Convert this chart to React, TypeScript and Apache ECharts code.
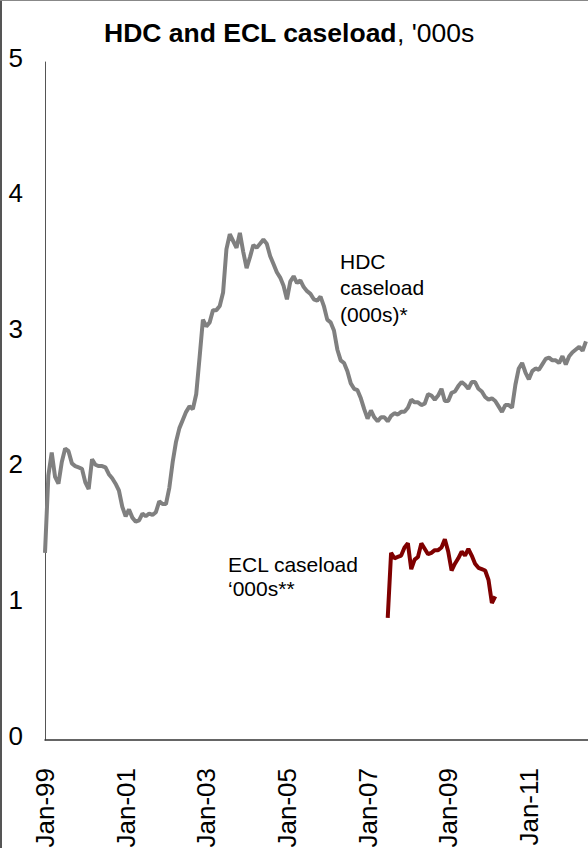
import React, { useEffect, useRef } from "react";
import * as echarts from "echarts";

const monthNames = ["Jan","Feb","Mar","Apr","May","Jun","Jul","Aug","Sep","Oct","Nov","Dec"];
const startYear = 1999;
const categoryCount = 163; // Jan-99 .. Jul-12
const labelEvery = 24;

// HDC caseload ('000s), monthly from Jan-99
const hdcValues = [
  1.38,1.95,2.12,1.94,1.89,2.05,2.15,2.13,2.04,2.02,2.01,2.00,
  1.90,1.85,2.07,2.03,2.02,2.02,2.01,1.96,1.93,1.89,1.84,1.72,
  1.65,1.70,1.64,1.61,1.62,1.67,1.65,1.67,1.66,1.68,1.76,1.74,
  1.74,1.86,2.05,2.20,2.30,2.36,2.42,2.46,2.44,2.55,2.82,3.10,
  3.05,3.08,3.17,3.17,3.20,3.30,3.62,3.73,3.68,3.63,3.74,3.60,
  3.48,3.56,3.65,3.63,3.66,3.69,3.66,3.57,3.51,3.45,3.41,3.35,
  3.25,3.38,3.42,3.37,3.39,3.34,3.31,3.29,3.25,3.24,3.27,3.20,
  3.10,3.08,3.02,2.88,2.80,2.78,2.72,2.63,2.59,2.58,2.52,2.44,
  2.37,2.43,2.38,2.35,2.38,2.38,2.35,2.39,2.41,2.40,2.42,2.42,
  2.45,2.51,2.49,2.49,2.47,2.48,2.55,2.54,2.51,2.54,2.59,2.50,
  2.50,2.56,2.57,2.61,2.64,2.62,2.59,2.64,2.64,2.59,2.57,2.53,
  2.51,2.52,2.50,2.46,2.42,2.47,2.47,2.45,2.62,2.74,2.78,2.71,
  2.66,2.72,2.74,2.73,2.77,2.81,2.82,2.80,2.80,2.78,2.83,2.77,
  2.83,2.86,2.88,2.90,2.87,2.94
];

// ECL caseload ('000s), monthly from Jul-07
const eclStartIndex = 102;
const eclValues = [
  0.90,1.38,1.34,1.35,1.36,1.42,1.45,1.26,1.33,1.35,1.45,1.41,
  1.37,1.38,1.40,1.40,1.42,1.48,1.39,1.25,1.30,1.34,1.39,1.36,
  1.41,1.36,1.30,1.27,1.26,1.25,1.18,1.01,1.06
];

const yTicks = [0, 1, 2, 3, 4, 5];

const titleBold = "HDC and ECL caseload";
const titleRest = ", '000s";
const hdcLabel = "HDC\ncaseload\n(000s)*";
const eclLabel = "ECL caseload\n\u2018000s**";

export default function App() {
  const ref = useRef<HTMLDivElement>(null);

  useEffect(() => {
    if (!ref.current) return;
    const chart = echarts.init(ref.current, null, { renderer: "svg" });

    const categories: string[] = [];
    for (let i = 0; i < categoryCount; i++) {
      const y = startYear + Math.floor(i / 12);
      categories.push(`${monthNames[i % 12]}-${String(y % 100).padStart(2, "0")}`);
    }
    const hdcData = categories.map((_, i) => (i < hdcValues.length ? hdcValues[i] : null));
    const eclData = categories.map((_, i) => {
      const k = i - eclStartIndex;
      return k >= 0 && k < eclValues.length ? eclValues[k] : null;
    });

    const font = "'Liberation Sans', Arial, sans-serif";

    chart.setOption({
      animation: false,
      backgroundColor: "#ffffff",
      title: {
        text: `{b|${titleBold}}{r|${titleRest}}`,
        left: 104,
        top: 19,
        padding: 0,
        textStyle: {
          rich: {
            b: { fontFamily: font, fontSize: 26.5, fontWeight: "bold", color: "#000" },
            r: { fontFamily: font, fontSize: 26.5, fontWeight: "normal", color: "#000" },
          },
        },
      },
      grid: {
        left: 45,
        top: 62,
        bottom: 108,
        width: (categoryCount - 1) * 3.36,
        containLabel: false,
        outerBoundsMode: "none",
      },
      xAxis: {
        type: "category",
        data: categories,
        boundaryGap: false,
        axisLine: { show: true, lineStyle: { color: "#333", width: 1.5 } },
        axisTick: { show: false },
        splitLine: { show: false },
        axisLabel: {
          interval: labelEvery - 1,
          rotate: 90,
          margin: 28,
          fontFamily: font,
          fontSize: 26,
          color: "#000",
        },
      },
      yAxis: {
        type: "value",
        min: yTicks[0],
        max: yTicks[yTicks.length - 1],
        interval: 1,
        axisLine: { show: true, lineStyle: { color: "#555", width: 1 } },
        axisTick: { show: false },
        splitLine: { show: false },
        axisLabel: {
          margin: 22,
          fontFamily: font,
          fontSize: 26,
          color: "#000",
          verticalAlign: "bottom",
          lineHeight: 9,
        },
      },
      series: [
        {
          name: "HDC caseload (000s)*",
          type: "line",
          data: hdcData,
          symbol: "none",
          connectNulls: false,
          lineStyle: { color: "#808080", width: 4 },
          itemStyle: { color: "#808080" },
        },
        {
          name: "ECL caseload '000s**",
          type: "line",
          data: eclData,
          symbol: "none",
          connectNulls: false,
          lineStyle: { color: "#7f0000", width: 4 },
          itemStyle: { color: "#7f0000" },
        },
      ],
      graphic: [
        {
          type: "text",
          left: 340,
          top: 248,
          style: {
            text: hdcLabel,
            fontFamily: font,
            fontSize: 21,
            lineHeight: 26.5,
            fill: "#000",
          },
        },
        {
          type: "text",
          left: 228,
          top: 553,
          style: {
            text: eclLabel,
            fontFamily: font,
            fontSize: 21,
            lineHeight: 23.5,
            fill: "#000",
          },
        },
        {
          type: "line",
          shape: { x1: 1, y1: 0, x2: 1, y2: 848 },
          style: { stroke: "#555", lineWidth: 2 },
        },
        {
          type: "line",
          shape: { x1: 0, y1: 0.5, x2: 588, y2: 0.5 },
          style: { stroke: "#888", lineWidth: 1 },
        },
      ],
    });

    return () => chart.dispose();
  }, []);

  return (
    <div
      ref={ref}
      style={{ position: "absolute", left: 0, top: 0, width: 588, height: 848 }}
    />
  );
}
